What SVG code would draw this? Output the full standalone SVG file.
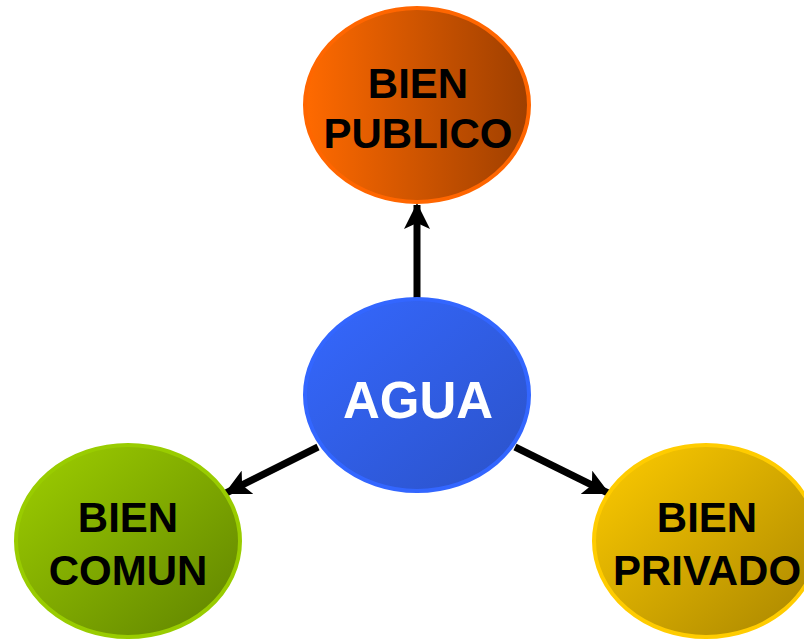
<svg xmlns="http://www.w3.org/2000/svg" width="804" height="640" viewBox="0 0 804 640">
<defs>
<linearGradient id="gOrange" x1="0" y1="0" x2="1" y2="0">
<stop offset="0" stop-color="#ff6a00"/><stop offset="1" stop-color="#9e3f00"/>
</linearGradient>
<linearGradient id="gBlue" x1="0" y1="0" x2="1" y2="1">
<stop offset="0" stop-color="#3568ff"/><stop offset="1" stop-color="#2b52c8"/>
</linearGradient>
<linearGradient id="gGreen" x1="0" y1="0" x2="1" y2="1">
<stop offset="0" stop-color="#9fd000"/><stop offset="1" stop-color="#5f8200"/>
</linearGradient>
<linearGradient id="gYellow" x1="0" y1="0" x2="1" y2="1">
<stop offset="0" stop-color="#ffcc00"/><stop offset="1" stop-color="#a88500"/>
</linearGradient>
<marker id="arr" viewBox="0 0 26 26" refX="24" refY="13" markerWidth="26" markerHeight="26" markerUnits="userSpaceOnUse" orient="auto">
<path d="M0,0 L26,13 L0,26 L6,13 Z" fill="#000"/>
</marker>
<style>
.lbl{font-family:"Liberation Sans",Arial,sans-serif;font-weight:bold;font-size:42px;text-anchor:middle;fill:#000}
.conn{stroke:#000;stroke-width:7;fill:none}
</style>
</defs>
<g id="connectors">
<line class="conn" x1="417" y1="298" x2="417" y2="205" marker-end="url(#arr)"/>
<line class="conn" x1="318" y1="447" x2="226" y2="493" marker-end="url(#arr)"/>
<line class="conn" x1="515" y1="447" x2="608" y2="493" marker-end="url(#arr)"/>
</g>
<g id="publico">
<ellipse cx="417" cy="105" rx="112" ry="97" fill="url(#gOrange)" stroke="#ff6600" stroke-width="4"/>
<text class="lbl" x="418" y="98">BIEN</text>
<text class="lbl" x="418" y="148">PUBLICO</text>
</g>
<g id="agua">
<ellipse cx="417" cy="395" rx="112" ry="96" fill="url(#gBlue)" stroke="#3366ff" stroke-width="4"/>
<text class="lbl" x="418" y="418" style="font-size:51px;fill:#fff">AGUA</text>
</g>
<g id="comun">
<ellipse cx="128" cy="541" rx="112" ry="96" fill="url(#gGreen)" stroke="#99cc00" stroke-width="4"/>
<text class="lbl" x="128" y="532">BIEN</text>
<text class="lbl" x="128" y="585">COMUN</text>
</g>
<g id="privado">
<ellipse cx="706" cy="541" rx="112" ry="96" fill="url(#gYellow)" stroke="#ffcc00" stroke-width="4"/>
<text class="lbl" x="707" y="532">BIEN</text>
<text class="lbl" x="707" y="585">PRIVADO</text>
</g>
</svg>
